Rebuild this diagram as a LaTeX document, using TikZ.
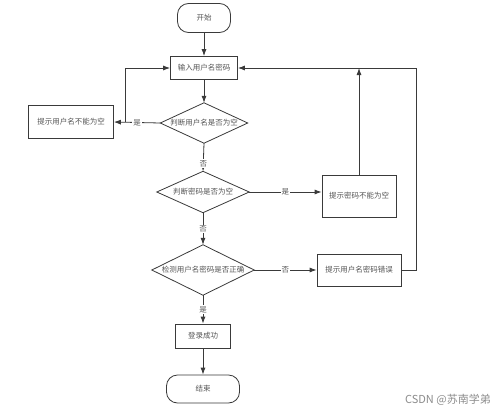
\documentclass[tikz,border=0pt]{standalone}
\usepackage{fontspec}
\setmainfont{Noto Sans CJK SC}
\usetikzlibrary{arrows.meta,shapes.geometric,calc}
\definecolor{ln}{HTML}{3A3A3A}
\definecolor{tx}{HTML}{555555}
\begin{document}
\begin{tikzpicture}[x=1pt,y=-1pt,
  every node/.style={font=\fontsize{7.5pt}{9pt}\selectfont,text=tx,inner sep=0pt},
  box/.style={draw=ln,line width=0.8pt,rectangle,minimum width=#1,fill=white},
  term/.style={draw=ln,line width=0.8pt,rounded corners=11pt,minimum width=#1,minimum height=28pt},
  dia/.style={rectangle,minimum width=#1},
  conn/.style={draw=ln,line width=0.8pt,-{Latex[length=7pt,width=5pt]}},
  outline/.style={draw=ln,line width=0.8pt,line join=miter},
  lbl/.style={fill=white,inner sep=1pt}]
\fill[white] (0,0) rectangle (500,412);
\useasboundingbox (0,0) rectangle (500,412);

\node[term=53pt,minimum height=29pt] (start) at (204,18) {开始};
\node[box=67pt,minimum height=23pt] (input) at (204,68) {输入用户名密码};
\node[dia=87pt,minimum height=40pt] (d1) at (204,123) {判断用户名是否为空};
\node[box=85pt,minimum height=33pt] (b1) at (71,122) {提示用户名不能为空};
\node[dia=92pt,minimum height=41pt] (d2) at (203,192) {判断密码是否为空};
\node[box=74pt,minimum height=42pt] (b2) at (359,196) {提示密码不能为空};
\node[dia=102pt,minimum height=50pt] (d3) at (203,270) {检测用户名密码是否正确};
\node[box=84pt,minimum height=32pt] (b3) at (359,270) {提示用户名密码错误};
\node[box=55pt,minimum height=24pt] (ok) at (203,336) {登录成功};
\node[term=73pt,minimum height=28pt] (end) at (203,389) {结束};

\foreach \d in {d1,d2,d3}
  \path[outline] (\d.north) -- (\d.east) -- (\d.south) -- (\d.west) -- cycle;

\coordinate (j1) at (125,122);
\coordinate (c2) at (359,68);
\coordinate (rc) at (416,68);

\path[conn] (start) -- (input);
\path[conn] (input) -- (d1.north);
\path[conn] (d1.west) -- node[lbl,pos=0.5]{是} (b1.east);
\path[conn] (j1) |- (input.west);
\path[conn] (d1.south) -- node[lbl,pos=0.72]{否} (d2.north);
\path[conn] (d2.east) -- node[lbl,pos=0.5]{是} (d2.east -| b2.west);
\path[conn] (b2.north) -- (c2);
\path[conn] (d2.south) -- node[lbl,pos=0.5]{否} (d3.north);
\path[conn] (d3.east) -- node[lbl,pos=0.5]{否} (b3.west);
\path[conn] (b3.east) -| (rc) -- (input.east);
\path[conn] (d3.south) -- node[lbl,pos=0.5]{是} (ok.north);
\path[conn] (ok) -- (end);

\node[font=\fontsize{11pt}{13pt}\selectfont,text=black!45,anchor=east] (wm) at (491,400) {CSDN @苏南学弟};
\end{tikzpicture}
\end{document}
